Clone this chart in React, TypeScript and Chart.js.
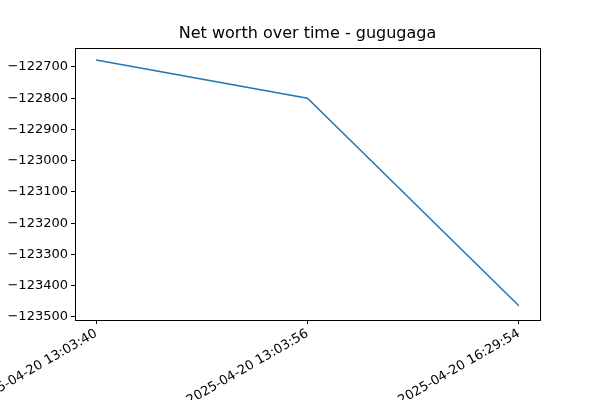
import React, { useEffect, useRef } from 'react';
import Chart from 'chart.js/auto';

const timeLabels = ['2025-04-20 13:03:40', '2025-04-20 13:03:56', '2025-04-20 16:29:54'];
const netWorth = [-122678, -122800, -123464];
const yTicks = [-122700, -122800, -122900, -123000, -123100, -123200, -123300, -123400, -123500];
const chartTitle = 'Net worth over time - gugugaga';

const frame = {
  id: 'frame',
  afterDraw(chart: any) {
    const { ctx, chartArea: a } = chart;
    ctx.save();
    ctx.strokeStyle = '#000';
    ctx.lineWidth = 1;
    ctx.strokeRect(a.left + 0.5, a.top + 0.5, a.right - a.left, a.bottom - a.top);
    ctx.fillStyle = '#000';
    ctx.font = '16px "DejaVu Sans"';
    ctx.textAlign = 'center';
    ctx.textBaseline = 'bottom';
    ctx.fillText(chartTitle, (a.left + a.right) / 2, a.top - 6);
    ctx.restore();
  },
};

const App: React.FC = () => {
  const chartRef = useRef<HTMLCanvasElement>(null);

  useEffect(() => {
    document.body.style.margin = '0';
    if (!chartRef.current) return;
    const chart = new Chart(chartRef.current, {
      type: 'line',
      data: {
        datasets: [{
          data: netWorth.map((v, i) => ({ x: i, y: v })),
          borderColor: '#1f77b4',
          borderWidth: 1.5,
          pointRadius: 0,
          tension: 0,
        }],
      },
      options: {
        animation: false,
        responsive: false,
        layout: { padding: { top: 48, right: 60, left: 0, bottom: 0 } },
        plugins: { legend: { display: false }, title: { display: false }, tooltip: { enabled: false } },
        scales: {
          x: {
            type: 'linear',
            min: -0.1,
            max: 2.1,
            afterBuildTicks: (s: any) => { s.ticks = timeLabels.map((_, i) => ({ value: i })); },
            afterFit: (s: any) => { s.height = 80; s.paddingLeft = 0; s.paddingRight = 0; },
            grid: { drawOnChartArea: false, tickLength: 4, color: '#000' },
            border: { display: false },
            ticks: {
              color: '#000',
              font: { family: 'DejaVu Sans', size: 13 },
              maxRotation: 30,
              minRotation: 30,
              padding: 2,
              callback: (v: any) => timeLabels[v] ?? '',
            },
          },
          y: {
            min: -123509.6,
            max: -122639.5,
            afterBuildTicks: (s: any) => { s.ticks = yTicks.map((v) => ({ value: v })); },
            afterFit: (s: any) => { s.width = 75; s.paddingTop = 0; s.paddingBottom = 0; },
            grid: { drawOnChartArea: false, tickLength: 4, color: '#000' },
            border: { display: false },
            ticks: {
              color: '#000',
              font: { family: 'DejaVu Sans', size: 13 },
              padding: 3,
              callback: (v: any) => String(v).replace('-', '\u2212'),
            },
          },
        },
      },
      plugins: [frame],
    });
    return () => chart.destroy();
  }, []);

  return <canvas ref={chartRef} width={600} height={400} style={{ display: 'block' }} />;
};

export default App;
